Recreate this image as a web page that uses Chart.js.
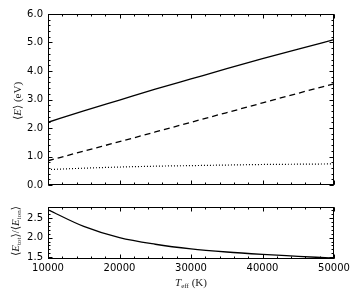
<!DOCTYPE html>
<html>
<head>
<meta charset="utf-8">
<script src="https://cdn.jsdelivr.net/npm/chart.js@4/dist/chart.umd.min.js"></script>
<style>
  html, body { margin: 0; padding: 0; background: #fff; }
  #wrap { position: relative; width: 360px; height: 300px; overflow: hidden; }
  canvas { position: absolute; left: 0; }
  .lbl { position: absolute; white-space: nowrap; font-family: 'Liberation Serif', 'DejaVu Serif', serif;
         font-size: 11px; color: #222; line-height: 1; }
  .lbl i { font-style: italic; }
  .lbl sub { font-size: 7px; vertical-align: -2px; }
  .rot { transform: translate(-50%, -50%) rotate(-90deg); }
  .hor { transform: translate(-50%, -50%); }
</style>
</head>
<body>
<div id="wrap">
  <canvas id="top" width="360" height="196" style="top:0"></canvas>
  <canvas id="bottom" width="360" height="104" style="top:196px"></canvas>
  <div class="lbl rot" style="left:17px; top:101px">⟨<i>E</i>⟩ (eV)</div>
  <div class="lbl rot" style="left:16px; top:231px">⟨<i>E</i><sub>tot</sub>⟩/⟨<i>E</i><sub>ion</sub>⟩</div>
  <div class="lbl hor" style="left:191px; top:283px"><i>T</i><sub>eff</sub> (K)</div>
</div>
<script>
// effective temperature (K)
const temps = [10000, 15000, 20000, 25000, 30000, 35000, 40000, 45000, 50000];
// mean energies (eV)
const meanSolid  = [2.20, 2.60, 2.98, 3.36, 3.72, 4.08, 4.43, 4.77, 5.10];
const meanDashed = [0.85, 1.19, 1.52, 1.86, 2.20, 2.54, 2.88, 3.22, 3.55];
const meanDotted = [0.54, 0.59, 0.63, 0.66, 0.68, 0.70, 0.72, 0.73, 0.74];
// ratio shown in the lower panel
const ratio = [2.72, 2.29, 2.00, 1.83, 1.71, 1.63, 1.57, 1.52, 1.47];

const xTicks = [10000, 20000, 30000, 40000, 50000];
const yTicksTop = [0, 1, 2, 3, 4, 5, 6];
const yTicksBottom = [1.5, 2.0, 2.5];

const tickFont = { family: "'DejaVu Sans'", size: 10 };

// matplotlib-style frame with inward major/minor ticks on all four sides
const frameTicks = {
  id: 'frameTicks',
  afterDraw(chart, args, opts) {
    const { ctx, chartArea: a, scales: { x, y } } = chart;
    const L = Math.round(a.left) + 0.5, R = Math.round(a.right) - 0.5;
    const T = Math.round(a.top) + 0.5, B = Math.round(a.bottom) - 0.5;
    ctx.save();
    ctx.strokeStyle = '#000';
    ctx.lineWidth = 1;
    ctx.beginPath();
    const minors = (min, max, step) => {
      const out = [];
      for (let i = Math.ceil(min / step - 1e-9); i * step <= max + 1e-9; i++) out.push(i * step);
      return out;
    };
    const xm = (vals, len) => vals.forEach(v => {
      const px = Math.round(x.getPixelForValue(v)) + 0.5;
      ctx.moveTo(px, B); ctx.lineTo(px, B - len);
      ctx.moveTo(px, T); ctx.lineTo(px, T + len);
    });
    const ym = (vals, len) => vals.forEach(v => {
      const py = Math.round(y.getPixelForValue(v)) + 0.5;
      ctx.moveTo(L, py); ctx.lineTo(L + len, py);
      ctx.moveTo(R, py); ctx.lineTo(R - len, py);
    });
    xm(minors(x.min, x.max, opts.xMinor), 2);
    xm(opts.xMajor, 4);
    ym(minors(y.min, y.max, opts.yMinor), 2);
    ym(opts.yMajor, 4);
    ctx.stroke();
    ctx.strokeRect(L, T, R - L, B - T);
    ctx.restore();
  }
};

function lineSet(data, dash, width) {
  return {
    data: temps.map((t, i) => ({ x: t, y: data[i] })),
    borderColor: '#000',
    borderWidth: width,
    borderDash: dash,
    pointRadius: 0,
    fill: false,
    cubicInterpolationMode: 'monotone',
  };
}

new Chart(document.getElementById('top'), {
  type: 'line',
  data: {
    datasets: [
      lineSet(meanSolid, [], 1.3),
      lineSet(meanDashed, [6, 4], 1.3),
      lineSet(meanDotted, [1, 2], 1.2),
    ],
  },
  plugins: [frameTicks],
  options: {
    responsive: false,
    animation: false,
    layout: { padding: { top: 14, right: 26, bottom: 8, left: 0 } },
    plugins: {
      legend: { display: false },
      tooltip: { enabled: false },
      frameTicks: { xMajor: xTicks, xMinor: 2000, yMajor: yTicksTop, yMinor: 0.2 },
    },
    scales: {
      x: { type: 'linear', min: 10000, max: 50000, display: false },
      y: {
        min: 0, max: 6,
        afterBuildTicks: (s) => { s.ticks = yTicksTop.map(v => ({ value: v })); },
        afterFit: (s) => { s.width = 48; },
        ticks: { color: '#000', font: tickFont, padding: 5, callback: (v) => v.toFixed(1) },
        grid: { display: false, drawTicks: false },
        border: { display: false },
      },
    },
  },
});

new Chart(document.getElementById('bottom'), {
  type: 'line',
  data: { datasets: [lineSet(ratio, [], 1.3)] },
  plugins: [frameTicks],
  options: {
    responsive: false,
    animation: false,
    layout: { padding: { top: 6, right: 26, bottom: 0, left: 0 } },
    plugins: {
      legend: { display: false },
      tooltip: { enabled: false },
      frameTicks: { xMajor: xTicks, xMinor: 2000, yMajor: yTicksBottom, yMinor: 0.1 },
    },
    scales: {
      x: {
        type: 'linear', min: 10000, max: 50000,
        afterBuildTicks: (s) => { s.ticks = xTicks.map(v => ({ value: v })); },
        afterFit: (s) => { s.height = 41; },
        ticks: { color: '#000', font: tickFont, padding: 3, maxRotation: 0, callback: (v) => String(v) },
        grid: { display: false, drawTicks: false },
        border: { display: false },
      },
      y: {
        min: 1.45, max: 2.79,
        afterBuildTicks: (s) => { s.ticks = yTicksBottom.map(v => ({ value: v })); },
        afterFit: (s) => { s.width = 48; },
        ticks: { color: '#000', font: tickFont, padding: 5, callback: (v) => v.toFixed(1) },
        grid: { display: false, drawTicks: false },
        border: { display: false },
      },
    },
  },
});
</script>
</body>
</html>
